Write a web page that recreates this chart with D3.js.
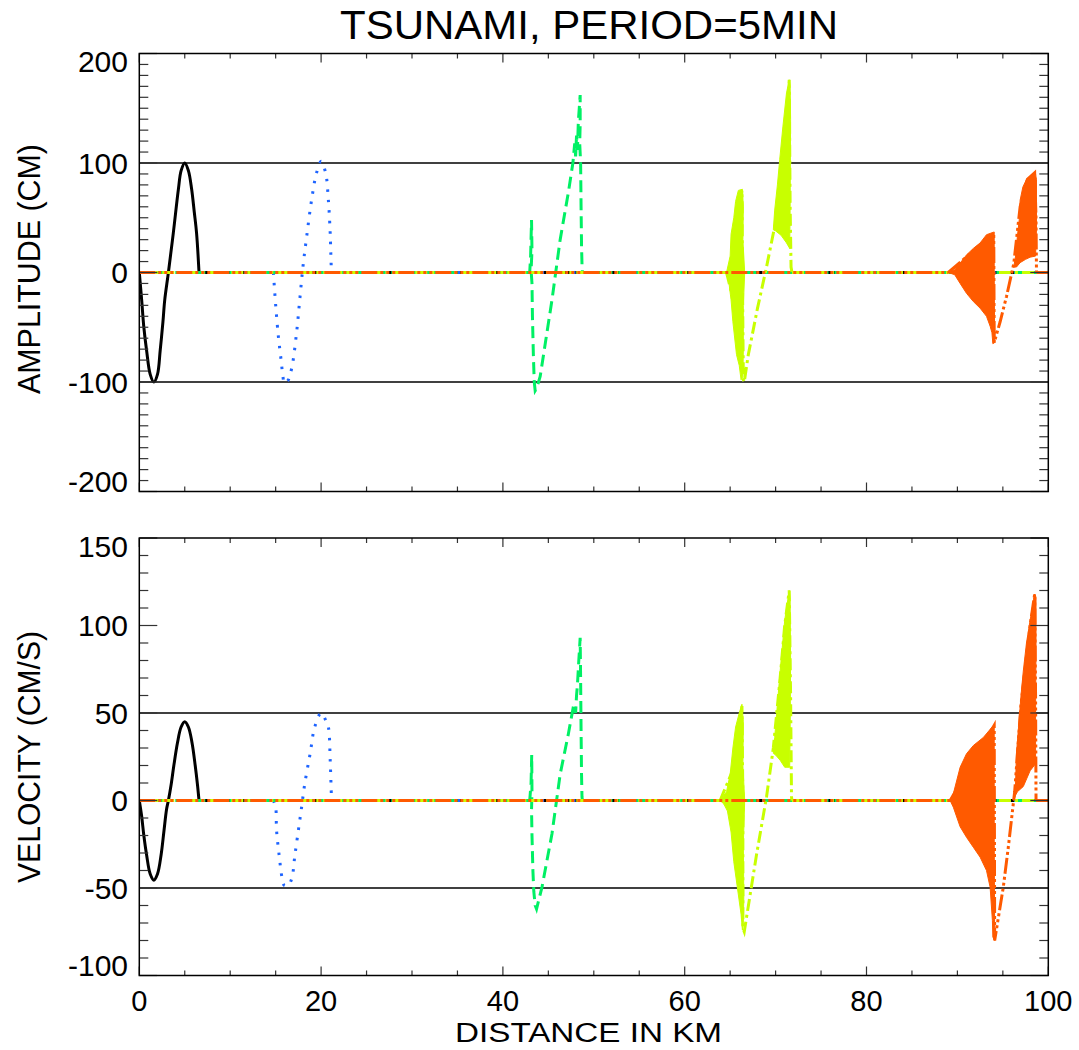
<!doctype html>
<html lang="en">
<head>
<meta charset="utf-8">
<title>TSUNAMI, PERIOD=5MIN</title>
<script src="https://d3js.org/d3.v7.min.js"></script>
<style>
  body { margin: 0; background: #fff; }
  text { font-family: "Liberation Sans", Arial, Helvetica, sans-serif; fill: #000; }
  .frame { fill: none; stroke: #000; stroke-width: 1.5px; }
  .tick { stroke: #333; stroke-width: 1.2px; }
  .ref { stroke: #000; stroke-width: 1.3px; }
</style>
</head>
<body>
<script>
// axis ticks / labels
var distTicks = [0, 20, 40, 60, 80, 100];
var ampTicks = [-200, -100, 0, 100, 200];
var velTicks = [-100, -50, 0, 50, 100, 150];
var ampRef = [-100, 100];   // thin black guide lines
var velRef = [-50, 50];

// one snapshot per colour, same order as IDL linestyles 0..4
var snapColors = ["#000000", "#1e64ff", "#00f064", "#c8ff00", "#ff5a00"];
var snapDash = [null, "2.5 8", "12 6", "12 4 3 4", "16 3 3 3 3 3 3 3"];

// amplitude snapshots, [km, cm]  (only the disturbed part, zero elsewhere)
var ampT0 = [[0,0],[0.26,-25],[0.5,-50],[0.8,-71],[1.2,-93],[1.6,-100],[2.0,-93],[2.3,-71],[2.6,-45],[2.8,-25],[3.2,0],[3.74,36],[4.3,76],[4.6,93],[5.0,100],[5.4,93],[5.76,76],[6.05,55],[6.3,36],[6.57,0]];
var ampT1 = [[14.75,0],[15.0,-29.5],[15.3,-58.5],[15.6,-80],[15.8,-95],[15.95,-101],[16.2,-100],[16.4,-98],[16.8,-86],[17.3,-55],[17.65,-25],[18.0,5],[18.4,32],[18.95,66],[19.5,91],[20.0,101.5],[20.5,91],[20.8,66],[21.0,36],[21.1,8.6],[21.15,0]];
var ampT2 = [[42.6,0],[42.95,0],[43.05,15],[43.15,48],[43.2,20],[43.1,2],[43.2,-10],[43.25,-40],[43.35,-75],[43.45,-100],[43.55,-108],[43.7,-106],[44.1,-95],[45.4,-25],[46.3,30],[47.2,73],[47.7,100],[47.9,118],[48.0,106],[48.1,125],[48.2,112],[48.3,138],[48.4,150],[48.5,162],[48.5,135],[48.45,118],[48.55,100],[48.6,60],[48.65,25],[48.7,8],[48.75,0]];
var ampT3 = [[64.6,0],[65.2,-20],[65.8,40],[66.3,75],[66.35,0],[66.45,-98],[66.55,-100],[67.0,-75],[68.0,-33],[69.0,5],[69.9,42],[70.7,90],[71.2,140],[71.5,176],[71.6,60],[71.7,5],[71.8,0]];
var ampT4 = [[89.0,0],[94.0,36],[94.05,-64],[94.7,-45],[95.4,-22],[96.2,8],[96.9,60],[97.7,85],[98.5,91],[98.65,50],[98.7,0]];

// velocity snapshots, [km, cm/s]
var velT0 = [[0,0],[0.26,-9],[0.5,-20],[0.8,-31],[1.2,-42],[1.6,-45.5],[2.0,-42],[2.4,-31],[2.7,-18],[3.0,-5],[3.2,0],[3.5,9],[3.8,20],[4.2,33],[4.6,42],[5.0,45],[5.4,42],[5.8,33],[6.15,20],[6.4,9],[6.57,0]];
var velT1 = [[14.75,0],[15.0,-3.8],[15.1,-17],[15.4,-32],[15.7,-44],[15.95,-48.5],[16.4,-48.5],[16.8,-44],[17.1,-32],[17.5,-17],[17.85,-4],[18.2,9.5],[18.8,27],[19.3,42],[20.0,50],[20.5,46],[20.8,42],[21.0,23],[21.1,7.6],[21.15,0]];
var velT2 = [[42.7,0],[42.95,0],[43.1,10],[43.17,26],[43.2,5],[43.15,-5],[43.2,-20],[43.3,-40],[43.4,-52],[43.55,-60],[43.7,-62],[44.3,-49.5],[45.4,-19],[46.3,15],[47.2,38],[47.8,55],[48.0,50],[48.1,60],[48.2,66],[48.35,80],[48.5,93],[48.55,70],[48.6,40],[48.65,15],[48.7,2],[48.75,0]];
var velT3 = [[63.9,0],[65.5,20],[66.3,54],[66.4,0],[66.4,-73],[66.55,-75],[67.9,-31],[69.0,2],[69.75,30],[70.5,70],[71.0,100],[71.5,120],[71.65,60],[71.75,2],[71.8,0]];
var velT4 = [[89.2,0],[94.05,43],[94.1,-80],[95.05,-49.5],[95.6,-26.7],[96.3,5],[97.0,55],[98.0,100],[98.5,118],[98.6,60],[98.65,0]];

// outlines of the scattered (noisy) patches, [km, value]
var ampBlobT3a = [[64.6,0],[65.0,15],[65.1,35],[65.4,50],[65.6,65],[65.9,75],[66.35,76],[66.45,60],[66.4,30],[66.6,0],[66.45,-30],[66.45,-70],[66.4,-95],[66.2,-98],[66.0,-85],[65.7,-75],[65.3,-45],[65.1,-25],[64.8,-5]];
var ampBlobT3b = [[69.75,39],[69.9,57],[70.2,80],[70.45,103],[70.8,133],[71.2,164],[71.5,176],[71.6,170],[71.65,140],[71.6,60],[71.55,22],[71.2,27],[70.6,34],[70.0,38]];
var ampBlobT4a = [[89.0,0],[89.7,2.4],[90.3,8.6],[91.0,16],[91.75,22],[92.5,27],[93.2,34.5],[93.8,36.3],[94.05,37],[94.05,0],[94.1,-64],[93.9,-65],[93.8,-55],[93.6,-49],[93.2,-40],[92.5,-32.6],[91.75,-26.5],[91.0,-19],[90.3,-10],[89.7,-2]];
var ampBlobT4b = [[96.2,5],[96.4,15],[96.6,33],[96.8,48],[96.9,66],[97.2,78],[97.6,85],[98.3,90],[98.55,92],[98.7,85],[98.7,40],[98.6,15],[98.0,14],[97.5,12],[96.9,9],[96.5,5]];
var velBlobT3a = [[63.9,0],[64.6,5],[65.0,15],[65.3,30],[65.6,42],[66.0,50],[66.3,55],[66.45,45],[66.4,20],[66.6,0],[66.45,-25],[66.5,-55],[66.45,-70],[66.35,-74],[66.2,-65],[65.8,-50],[65.4,-35],[65.1,-18],[64.7,-6],[64.3,-2]];
var velBlobT3b = [[69.75,27],[69.9,36],[70.5,74],[71.0,103],[71.5,120],[71.6,115],[71.65,80],[71.6,40],[71.55,19],[71.0,19],[70.5,23],[70.0,26]];
var velBlobT4a = [[89.2,0],[89.55,3.8],[90.3,19],[91.0,26.7],[91.75,31.4],[92.85,36],[93.8,41.9],[94.05,43],[94.05,-20],[94.1,-80],[93.9,-78],[93.85,-68.6],[93.6,-49.5],[93.2,-40],[92.5,-32.4],[91.75,-26.7],[91.0,-21],[90.3,-15],[89.55,-3.8]];
var velBlobT4b = [[96.2,0],[96.4,10],[96.5,27],[97.0,60],[97.25,74],[97.6,90],[98.0,103],[98.3,112],[98.5,118],[98.65,116],[98.65,90],[98.6,50],[98.6,21],[98.0,17],[97.25,8],[96.6,5],[96.4,3]];

var svg = d3.select("body").append("svg")
  .attr("width", 1079)
  .attr("height", 1050);

var x = d3.scaleLinear().domain([0, 100]).range([139.3, 1048.3]);

// ranges picked so the zero line sits on a half pixel (3px strokes stay crisp)
var panels = [
  {
    y: d3.scaleLinear().domain([-200, 200]).range([491.5, 53.5]),
    ticks: ampTicks, refs: ampRef,
    lines: [ampT0, ampT1, ampT2, ampT3, ampT4],
    blobs: [[3, ampBlobT3a], [3, ampBlobT3b], [4, ampBlobT4a], [4, ampBlobT4b]],
    label: "AMPLITUDE (CM)", labelY: 269, labelLen: 250
  },
  {
    y: d3.scaleLinear().domain([-100, 150]).range([975.5, 538]),
    ticks: velTicks, refs: velRef,
    lines: [velT0, velT1, velT2, velT3, velT4],
    blobs: [[3, velBlobT3a], [3, velBlobT3b], [4, velBlobT4a], [4, velBlobT4b]],
    label: "VELOCITY (CM/S)", labelY: 757, labelLen: 252
  }
];

var x0 = x.range()[0], x1 = x.range()[1];

panels.forEach(function(p, i) {
  var y = p.y;
  var yb = y.range()[0], yt = y.range()[1];
  var g = svg.append("g");

  svg.append("clipPath").attr("id", "clip" + i)
    .append("rect")
    .attr("x", x0).attr("y", yt)
    .attr("width", x1 - x0).attr("height", yb - yt);

  // guide lines at +-100 / +-50
  g.selectAll(".ref").data(p.refs).enter().append("line")
    .attr("class", "ref")
    .attr("x1", x0).attr("x2", x1)
    .attr("y1", function(d) { return y(d); })
    .attr("y2", function(d) { return y(d); });

  var plot = g.append("g").attr("clip-path", "url(#clip" + i + ")");
  var flat = d3.line().x(function(d) { return x(d[0]); }).y(function(d) { return y(d[1]); });
  var area = d3.line().x(function(d) { return x(d[0]); }).y(function(d) { return y(d[1]); }).curve(d3.curveLinearClosed);

  p.lines.forEach(function(pts, k) {
    var wave = d3.line()
      .x(function(d) { return x(d[0]); })
      .y(function(d) { return y(d[1]); })
      .curve(k < 2 ? d3.curveCatmullRom.alpha(0.5) : d3.curveLinear);
    var first = pts[0], last = pts[pts.length - 1];
    var path = "";
    if (first[0] > 0) path += flat([[0, 0], first]);
    path += wave(pts);
    if (last[0] < 100) path += flat([last, [100, 0]]);

    plot.append("path")
      .attr("d", path)
      .attr("fill", "none")
      .attr("stroke", snapColors[k])
      .attr("stroke-width", 3)
      .attr("stroke-dasharray", snapDash[k]);

    // scattered patches belonging to this snapshot
    p.blobs.filter(function(b) { return b[0] == k; }).forEach(function(b) {
      plot.append("path")
        .attr("d", area(b[1]))
        .attr("fill", snapColors[k])
        .attr("stroke", snapColors[k])
        .attr("stroke-width", 1);
    });
  });

  // minor + major ticks on all four sides
  var yMinor = d3.range(y.domain()[0], y.domain()[1] + 0.01, 10);
  yMinor.forEach(function(v) {
    var len = p.ticks.indexOf(v) >= 0 ? 18 : 9;
    g.append("line").attr("class", "tick")
      .attr("x1", x0).attr("x2", x0 + len).attr("y1", y(v)).attr("y2", y(v));
    g.append("line").attr("class", "tick")
      .attr("x1", x1 - len).attr("x2", x1).attr("y1", y(v)).attr("y2", y(v));
  });
  d3.range(0, 100.01, 5).forEach(function(v) {
    var len = distTicks.indexOf(v) >= 0 ? 9 : 5;
    g.append("line").attr("class", "tick")
      .attr("x1", x(v)).attr("x2", x(v)).attr("y1", yt).attr("y2", yt + len);
    g.append("line").attr("class", "tick")
      .attr("x1", x(v)).attr("x2", x(v)).attr("y1", yb).attr("y2", yb - len);
  });

  g.append("rect").attr("class", "frame")
    .attr("x", x0).attr("y", yt)
    .attr("width", x1 - x0).attr("height", yb - yt);

  // y tick labels (IDL nudges the end labels inwards)
  g.selectAll(".ylab").data(p.ticks).enter().append("text")
    .attr("class", "ylab")
    .attr("x", 128)
    .attr("y", function(d) {
      var off = 0;
      if (d == y.domain()[1]) off = 8;
      if (d == y.domain()[0]) off = -10;
      return y(d) + off;
    })
    .attr("dy", "0.36em")
    .attr("text-anchor", "end")
    .style("font-size", "30px")
    .text(function(d) { return d; });

  g.append("text")
    .attr("transform", "translate(40," + p.labelY + ") rotate(-90)")
    .attr("text-anchor", "middle")
    .attr("textLength", p.labelLen)
    .attr("lengthAdjust", "spacingAndGlyphs")
    .style("font-size", "31px")
    .text(p.label);

  // distance labels under the lower panel only
  if (i == 1) {
    g.selectAll(".xlab").data(distTicks).enter().append("text")
      .attr("class", "xlab")
      .attr("x", function(d) { return x(d); })
      .attr("y", 1011)
      .attr("text-anchor", "middle")
      .style("font-size", "29px")
      .text(function(d) { return d; });
  }
});

svg.append("text")
  .attr("x", 589).attr("y", 39)
  .attr("text-anchor", "middle")
  .attr("textLength", 498)
  .attr("lengthAdjust", "spacingAndGlyphs")
  .style("font-size", "40px")
  .text("TSUNAMI, PERIOD=5MIN");

svg.append("text")
  .attr("x", 588.5).attr("y", 1042)
  .attr("text-anchor", "middle")
  .attr("textLength", 267)
  .attr("lengthAdjust", "spacingAndGlyphs")
  .style("font-size", "27px")
  .text("DISTANCE IN KM");
</script>
</body>
</html>
